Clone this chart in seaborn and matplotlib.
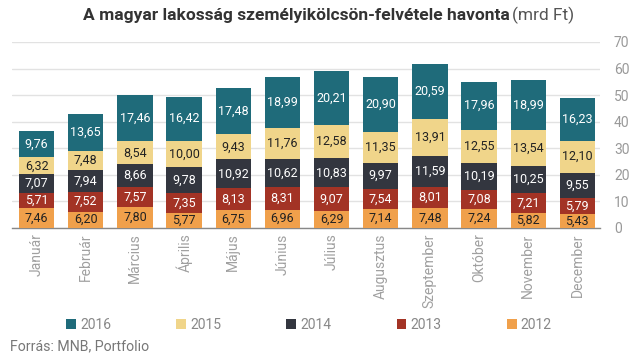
import numpy as np
import pandas as pd
import matplotlib
matplotlib.use('Agg')
import matplotlib.pyplot as plt
from matplotlib.patches import Patch
import seaborn as sns

# Data (mrd Ft)
months = ['Január', 'Február', 'Március', 'Április', 'Május', 'Június', 'Július',
          'Augusztus', 'Szeptember', 'Október', 'November', 'December']
v2012 = [7.46, 6.20, 7.80, 5.77, 6.75, 6.96, 6.29, 7.14, 7.48, 7.24, 5.82, 5.43]
v2013 = [5.71, 7.52, 7.57, 7.35, 8.13, 8.31, 9.07, 7.54, 8.01, 7.08, 7.21, 5.79]
v2014 = [7.07, 7.94, 8.66, 9.78, 10.92, 10.62, 10.83, 9.97, 11.59, 10.19, 10.25, 9.55]
v2015 = [6.32, 7.48, 8.54, 10.00, 9.43, 11.76, 12.58, 11.35, 13.91, 12.55, 13.54, 12.10]
v2016 = [9.76, 13.65, 17.46, 16.42, 17.48, 18.99, 20.21, 20.90, 20.59, 17.96, 18.99, 16.23]

years = ['2012', '2013', '2014', '2015', '2016']
colors = {'2012': '#f0a04b', '2013': '#a33325', '2014': '#33363f',
          '2015': '#f0d58a', '2016': '#1f6b7a'}
text_colors = {'2012': '#222222', '2013': 'white', '2014': 'white',
               '2015': '#222222', '2016': 'white'}

df = pd.DataFrame({'honap': months, '2012': v2012, '2013': v2013, '2014': v2014,
                   '2015': v2015, '2016': v2016})
cum = df[years].cumsum(axis=1)

sns.set_style('white')
plt.rcParams['font.family'] = ['Roboto', 'DejaVu Sans']

fig = plt.figure(figsize=(6.4, 3.57), dpi=100)
ax = fig.add_axes([12 / 640, 1 - 228 / 357, 588 / 640, 186 / 357])

# stacked bars: draw tallest cumulative first
for y in reversed(years):
    sns.barplot(x=df['honap'], y=cum[y], color=colors[y], width=0.72,
                linewidth=0, saturation=1, ax=ax, zorder=3)

# segment labels
for i in range(len(months)):
    base = 0
    for y in years:
        val = df[y][i]
        ax.text(i, base + val / 2, f'{val:.2f}'.replace('.', ','), ha='center',
                va='center', fontsize=9, color=text_colors[y], zorder=5)
        base += val

ax.set_ylim(0, 70)
ax.set_xlim(-0.5, 11.46)
ax.set_yticks(range(0, 71, 10))
ax.yaxis.tick_right()
ax.grid(axis='y', color='#e2e2e2', linewidth=1, zorder=0)
ax.set_axisbelow(True)
for s in ['top', 'left', 'right']:
    ax.spines[s].set_visible(False)
ax.spines['bottom'].set_color('#888888')
ax.spines['bottom'].set_linewidth(1)
ax.tick_params(axis='y', length=0, labelsize=10, colors='#999999', pad=10)
ax.tick_params(axis='x', length=0, labelsize=10, colors='#a0a0a0', pad=4)
plt.setp(ax.get_xticklabels(), rotation=90)
ax.set_xlabel('')
ax.set_ylabel('')

# title: bold part, then the unit right after it
t1 = fig.text(83 / 640, 0.957, 'A magyar lakosság személyikölcsön-felvétele havonta',
              ha='left', va='center', fontsize=12.5, fontweight='bold', color='#333333')
fig.canvas.draw()
bb = t1.get_window_extent(renderer=fig.canvas.get_renderer())
fig.text(bb.x1 / fig.bbox.width + 0.004, 0.957, '(mrd Ft)', ha='left', va='center',
         fontsize=12.5, color='#555555')

# legend
handles = [Patch(facecolor=colors[y], edgecolor='none', label=y)
           for y in reversed(years)]
fig.legend(handles=handles, loc='center left', bbox_to_anchor=(66 / 640, 1 - 325 / 357),
           ncol=5, frameon=False, fontsize=10, handlelength=0.7, handleheight=0.7,
           handletextpad=0.3, columnspacing=4.7, labelcolor='#888888',
           borderaxespad=0, borderpad=0)

fig.text(10 / 640, 1 - 346 / 357, 'Forrás: MNB, Portfolio', ha='left', va='center',
         fontsize=10.2, color='#777777')

fig.savefig('out.png', dpi=100, facecolor='white')
